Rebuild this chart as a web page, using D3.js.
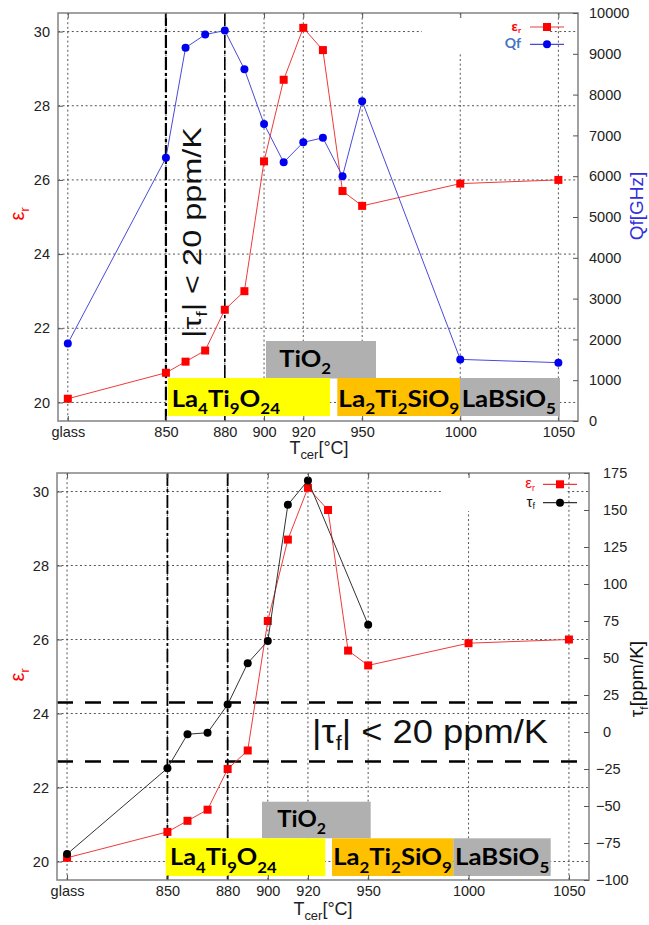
<!DOCTYPE html>
<html><head><meta charset="utf-8">
<script src="https://cdn.jsdelivr.net/npm/d3@7"></script>
<style>
body{margin:0;background:#fff;}
svg{display:block;font-family:"Liberation Sans",Arial,sans-serif;}
</style></head><body>
<svg id="chart" width="649" height="925"></svg>
<script>
// ---------- data ----------
const temps   = [800, 850, 860, 870, 880, 890, 900, 910, 920, 930, 940, 950, 1000, 1050];
const epsR    = [20.1, 20.8, 21.1, 21.4, 22.5, 23.0, 26.5, 28.7, 30.1, 29.5, 25.7, 25.3, 25.9, 26.0];
const qf      = [1900, 6450, 9150, 9470, 9570, 8620, 7280, 6340, 6830, 6940, 6000, 7840, 1510, 1430];
const tauTemps = [800, 850, 860, 870, 880, 890, 900, 910, 920, 950];
const tauF     = [-82.5, -24.5, -1.5, -0.5, 18.5, 46.5, 61.5, 153.5, 170, 72.5];
const xTickValues = [800, 850, 880, 900, 920, 950, 1000, 1050];
const xTickLabels = ["glass", "850", "880", "900", "920", "950", "1000", "1050"];
const epsTicks = [20, 22, 24, 26, 28, 30];
const qfTicks  = [0, 1000, 2000, 3000, 4000, 5000, 6000, 7000, 8000, 9000, 10000];
const tauTicks = [-100, -75, -50, -25, 0, 25, 50, 75, 100, 125, 150, 175];
const tfLimits = [-20, 20];
const sinterMarks = [850, 880];
const phaseNames = [
  [["TiO", 0], ["2", 1]],
  [["La", 0], ["4", 1], ["Ti", 0], ["9", 1], ["O", 0], ["24", 1]],
  [["La", 0], ["2", 1], ["Ti", 0], ["2", 1], ["SiO", 0], ["9", 1]],
  [["LaBSiO", 0], ["5", 1]]
];
const phaseColors = ["#b0b0b0", "#ffff00", "#ffc000", "#b0b0b0"];

// ---------- helpers ----------
const svg = d3.select("#chart");
function rich(t, parts, fs, subScale = 0.64, drop = 0.33) {
  let prevSub = false;
  parts.forEach(([s, sub]) => {
    const ts = t.append("tspan").text(s);
    if (sub) {
      ts.attr("font-size", fs * subScale);
      if (!prevSub) ts.attr("dy", fs * drop);
    } else if (prevSub) {
      ts.attr("dy", -fs * drop);
    }
    prevSub = !!sub;
  });
  return t;
}

function panel(cfg) {
  const P = cfg.box;
  const x = d3.scaleLinear().domain([795, 1060]).range([P.l, P.r]);
  const yE = d3.scaleLinear().domain([19.5, 30.5]).range([P.b, P.t]);
  const yR = d3.scaleLinear().domain(cfg.rightDomain).range([P.b, P.t]);
  const g = svg.append("g");

  // grid
  const grid = g.append("g").attr("stroke", "#555").attr("stroke-width", 1).attr("stroke-dasharray", "2,2.6");
  grid.selectAll("line.v").data(xTickValues).join("line").attr("class", "v")
    .attr("x1", d => x(d)).attr("x2", d => x(d)).attr("y1", P.t).attr("y2", P.b);
  grid.selectAll("line.h").data(epsTicks).join("line").attr("class", "h")
    .attr("x1", P.l).attr("x2", P.r).attr("y1", d => yE(d)).attr("y2", d => yE(d));

  // sintering marks
  g.selectAll("line.sm").data(sinterMarks).join("line").attr("class", "sm")
    .attr("x1", d => x(d)).attr("x2", d => x(d)).attr("y1", P.t).attr("y2", P.b)
    .attr("stroke", "#000").attr("stroke-width", (d, i) => cfg.smWidth[i])
    .attr("stroke-dasharray", cfg.smDash);

  if (cfg.tfLines) {
    g.selectAll("line.tf").data(tfLimits).join("line").attr("class", "tf")
      .attr("x1", P.l).attr("x2", P.r).attr("y1", d => yR(d)).attr("y2", d => yR(d))
      .attr("stroke", "#000").attr("stroke-width", 2.5).attr("stroke-dasharray", "16,12");
  }

  // annotation text |tau_f| < 20 ppm/K
  const a = cfg.ann;
  const at = g.append("text").attr("font-size", a.fs).attr("fill", "#111")
    .attr("transform", `translate(${a.x},${a.y}) rotate(${a.rot})`)
    .attr("text-anchor", a.anchor)
    .attr("textLength", a.len).attr("lengthAdjust", "spacingAndGlyphs");
  rich(at, [["|τ", 0], ["f", 1], ["| < 20 ppm/K", 0]], a.fs, 0.6, 0.22);

  // phase boxes
  cfg.phases.forEach((p, i) => {
    g.append("rect").attr("x", p.x).attr("y", p.y).attr("width", p.w).attr("height", p.h)
      .attr("fill", phaseColors[i]);
    const t = g.append("text").attr("x", p.tx).attr("y", p.ty)
      .attr("font-family", "Lato, 'Open Sans', sans-serif").attr("font-weight", 700)
      .attr("font-size", 23).attr("fill", "#000")
      .attr("textLength", p.tl).attr("lengthAdjust", "spacingAndGlyphs");
    rich(t, phaseNames[i], 23, 0.66, 0.33);
  });

  // legend
  const L = cfg.legend;
  g.append("rect").attr("x", L.x).attr("y", L.y).attr("width", L.w).attr("height", L.h).attr("fill", "#fff");

  const series = cfg.series;
  series.forEach((s, k) => {
    const yS = s.axis === "eps" ? yE : yR;
    const pts = s.xs.map((d, i) => [x(d), yS(s.ys[i])]);
    g.append("path").attr("d", d3.line()(pts)).attr("fill", "none")
      .attr("stroke", s.line).attr("stroke-width", 1);
    if (s.shape === "sq") {
      g.selectAll(null).data(pts).join("rect")
        .attr("x", d => d[0] - 4).attr("y", d => d[1] - 4).attr("width", 8).attr("height", 8)
        .attr("fill", s.fill);
    } else {
      g.selectAll(null).data(pts).join("circle")
        .attr("cx", d => d[0]).attr("cy", d => d[1]).attr("r", 4).attr("fill", s.fill);
    }
    // legend item
    const ly = L.rows[k];
    g.append("line").attr("x1", L.lx1).attr("x2", L.lx2).attr("y1", ly).attr("y2", ly)
      .attr("stroke", s.line).attr("stroke-width", 1.2);
    if (s.shape === "sq") {
      g.append("rect").attr("x", (L.lx1 + L.lx2) / 2 - 4).attr("y", ly - 4).attr("width", 8).attr("height", 8).attr("fill", s.fill);
    } else {
      g.append("circle").attr("cx", (L.lx1 + L.lx2) / 2).attr("cy", ly).attr("r", 4).attr("fill", s.fill);
    }
    const lt = g.append("text").attr("x", L.tx).attr("y", ly + 4).attr("text-anchor", "end")
      .attr("font-size", s.legFs).attr("fill", s.legColor)
      .attr("font-family", s.legFont).attr("font-weight", s.legWeight);
    rich(lt, s.legName, s.legFs, 0.6, 0.15);
  });

  // frame
  g.append("rect").attr("x", P.l).attr("y", P.t).attr("width", P.r - P.l).attr("height", P.b - P.t)
    .attr("fill", "none").attr("stroke", "#8a8a8a").attr("stroke-width", 1.6);

  // axes
  const style = sel => {
    sel.select(".domain").remove();
    sel.attr("font-family", "'Liberation Sans', Arial, sans-serif").attr("font-size", 14.5);
    sel.selectAll(".tick line").attr("stroke", "#555");
    sel.selectAll(".tick text").attr("fill", "#222");
  };
  g.append("g").attr("transform", `translate(0,${P.b})`)
    .call(d3.axisBottom(x).tickValues(xTickValues).tickFormat((d, i) => xTickLabels[i]).tickSize(-5).tickPadding(6))
    .call(style);
  g.append("g").attr("transform", `translate(0,${P.t})`)
    .call(d3.axisTop(x).tickValues(xTickValues).tickFormat("").tickSize(-5))
    .call(style);
  g.append("g").attr("transform", `translate(${P.l},0)`)
    .call(d3.axisLeft(yE).tickValues(epsTicks).tickFormat(d3.format("d")).tickSize(-5).tickPadding(8))
    .call(style);
  const ra = g.append("g").attr("transform", `translate(${P.r},0)`)
    .call(d3.axisRight(yR).tickValues(cfg.rightTicks).tickFormat(d3.format("d")).tickSize(-5).tickPadding(cfg.rightPad))
    .call(style);
  ra.selectAll(".tick text").attr("dx", d => d < 0 ? -7 : 0);

  // axis titles
  const xt = g.append("text").attr("x", cfg.xTitle.x).attr("y", cfg.xTitle.y).attr("text-anchor", "middle")
    .attr("font-size", 18).attr("fill", "#222");
  rich(xt, [["T", 0], ["cer", 1], ["[°C]", 0]], 18, 0.72, 0.3);

  const lt = g.append("text").attr("transform", `translate(${cfg.leftTitle.x},${cfg.leftTitle.y}) rotate(-90)`)
    .attr("text-anchor", "middle").attr("font-size", 20).attr("fill", "#ff0000");
  rich(lt, [["ε", 0], ["r", 1]], 20, 0.62, 0.25);

  const rt = g.append("text").attr("transform", `translate(${cfg.rightTitle.x},${cfg.rightTitle.y}) rotate(-90)`)
    .attr("text-anchor", "middle").attr("font-size", 19).attr("fill", cfg.rightTitle.color);
  rich(rt, cfg.rightTitle.parts, 19, 0.62, 0.25);
}

// ---------- top panel ----------
panel({
  box: {l: 58, r: 578, t: 13, b: 421},
  rightDomain: [0, 10000], rightTicks: qfTicks, rightPad: 11,
  smWidth: [2.2, 1.6], smDash: "13,3,3,3",
  tfLines: false,
  ann: {x: 201, y: 232.5, rot: -90, fs: 25, len: 211, anchor: "middle"},
  phases: [
    {x: 266, y: 341, w: 110, h: 37.5, tx: 279.3, ty: 366.7, tl: 51.7},
    {x: 167.7, y: 378, w: 162.3, h: 38, tx: 171.7, ty: 406.7, tl: 108.3},
    {x: 337.3, y: 378, w: 122.7, h: 38, tx: 338.3, ty: 406.7, tl: 121},
    {x: 460, y: 378, w: 100, h: 38, tx: 461.7, ty: 406.7, tl: 94.3}
  ],
  legend: {x: 422, y: 18, w: 128, h: 34, rows: [27, 44.3], lx1: 530, lx2: 564, tx: 521},
  series: [
    {axis: "right", xs: temps, ys: qf, shape: "c", fill: "#0000f0", line: "#4a4ad8",
     legName: [["Qf", 0]], legColor: "#4472c4", legFs: 14, legFont: "Lato, sans-serif", legWeight: 700},
    {axis: "eps", xs: temps, ys: epsR, shape: "sq", fill: "#ff0000", line: "#f03a3a",
     legName: [["ε", 0], ["r", 1]], legColor: "#ff0000", legFs: 14, legFont: "Lato, sans-serif", legWeight: 700}
  ].reverse(),
  xTitle: {x: 319, y: 454},
  leftTitle: {x: 24, y: 214},
  rightTitle: {x: 643, y: 206, color: "#2f2fe0", parts: [["Qf[GHz]", 0]]}
});

// ---------- bottom panel ----------
panel({
  box: {l: 57, r: 589, t: 473, b: 880},
  rightDomain: [-100, 175], rightTicks: tauTicks, rightPad: 14,
  smWidth: [1.8, 1.8], smDash: "13,3,3,3",
  tfLines: true,
  ann: {x: 312, y: 743, rot: 0, fs: 34, len: 236, anchor: "start"},
  phases: [
    {x: 262, y: 801.7, w: 108.7, h: 36.6, tx: 277.3, ty: 826.7, tl: 48.7},
    {x: 165.7, y: 838.3, w: 159.6, h: 37.7, tx: 170, ty: 865, tl: 106.7},
    {x: 332, y: 838.3, w: 121.3, h: 37.7, tx: 333.3, ty: 865, tl: 118.4},
    {x: 453.3, y: 838.3, w: 97.4, h: 37.7, tx: 455, ty: 865, tl: 94.3}
  ],
  legend: {x: 443, y: 476, w: 124, h: 35, rows: [484.3, 502.7], lx1: 543, lx2: 577, tx: 535},
  series: [
    {axis: "eps", xs: temps, ys: epsR, shape: "sq", fill: "#ff0000", line: "#f03a3a",
     legName: [["ε", 0], ["r", 1]], legColor: "#ff0000", legFs: 15, legFont: "'Liberation Sans', sans-serif", legWeight: 400},
    {axis: "right", xs: tauTemps, ys: tauF, shape: "c", fill: "#000", line: "#333",
     legName: [["τ", 0], ["f", 1]], legColor: "#111", legFs: 15, legFont: "'Liberation Sans', sans-serif", legWeight: 400}
  ],
  xTitle: {x: 323, y: 915},
  leftTitle: {x: 24, y: 675},
  rightTitle: {x: 643, y: 679, color: "#111", parts: [["τ", 0], ["f", 1], ["[ppm/K]", 0]]}
});
</script>
</body></html>
